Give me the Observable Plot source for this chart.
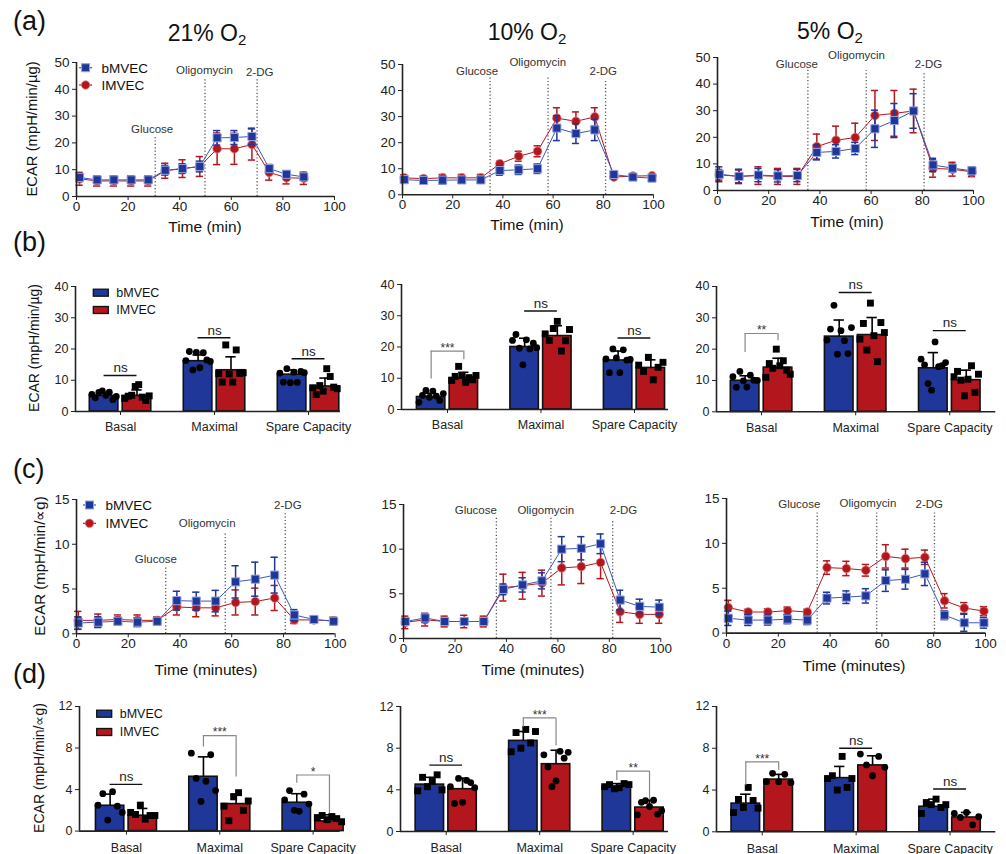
<!DOCTYPE html>
<html><head><meta charset="utf-8">
<script src="https://cdn.jsdelivr.net/npm/d3@7"></script>
<script src="https://cdn.jsdelivr.net/npm/@observablehq/plot@0.6"></script>
<style>
body{margin:0;background:#fff;}
#root{position:relative;width:1006px;height:854px;overflow:hidden;background:#fff;font-family:"Liberation Sans",Arial,Helvetica,sans-serif;}
.panel{position:absolute;}
</style>
</head><body><div id="root"></div>
<script>
const FONT = "'Liberation Sans', Arial, Helvetica, sans-serif";
const BLUE = "#1f3799", RED = "#b3161c";
const BLUE_EDGE = "#95a3dd", RED_EDGE = "#d87c7f";

// ---------- Time-course data ----------
const timeA1 = [1.2, 8.0, 14.5, 21.2, 27.8, 34.4, 41.1, 47.8, 54.5, 61.2, 68.0, 74.7, 81.4, 88.1];
const timeStd = [0.7, 8.4, 16.0, 23.6, 31.2, 38.8, 46.3, 53.8, 61.5, 69.1, 76.6, 84.2, 91.8, 99.4];

const a1_b    = [7.1, 6.2, 6.2, 6.2, 6.2, 9.8, 10.4, 11.2, 21.9, 22.0, 22.4, 10.4, 8.3, 7.3];
const a1_bErr = [1.5, 1.3, 1.3, 1.3, 1.3, 1.8, 1.8, 2.0, 2.7, 2.6, 3.1, 1.5, 1.2, 1.2];
const a1_l    = [6.6, 5.8, 5.8, 5.8, 5.8, 9.6, 10.4, 11.2, 17.8, 17.8, 19.4, 9.0, 7.0, 6.8];
const a1_lErr = [2.4, 1.9, 1.9, 1.9, 1.9, 2.8, 3.3, 3.7, 5.9, 5.8, 5.8, 2.9, 2.3, 2.3];

const a2_b    = [5.8, 5.5, 5.6, 5.7, 5.7, 9.3, 9.6, 10.0, 25.6, 23.5, 24.9, 7.8, 6.8, 6.4];
const a2_bErr = [1.0, 1.2, 1.5, 1.2, 1.2, 1.8, 1.8, 1.8, 4.8, 3.8, 4.1, 1.0, 0.8, 0.8];
const a2_l    = [6.5, 6.2, 6.5, 6.5, 6.5, 11.9, 14.8, 16.7, 29.4, 28.2, 29.9, 6.8, 7.2, 7.3];
const a2_lErr = [1.2, 1.0, 1.3, 1.3, 1.3, 1.0, 1.9, 2.1, 4.0, 3.6, 3.5, 0.8, 0.7, 0.7];

const a3_b    = [6.1, 5.3, 5.8, 5.5, 5.6, 14.3, 14.7, 15.8, 23.2, 26.3, 29.9, 9.6, 8.4, 7.4];
const a3_bErr = [2.8, 2.7, 2.5, 2.3, 2.3, 2.8, 2.5, 2.3, 7.0, 6.4, 6.5, 2.5, 1.5, 1.5];
const a3_l    = [5.9, 5.3, 5.6, 5.3, 5.3, 16.5, 18.9, 19.9, 28.2, 29.0, 29.9, 8.3, 8.0, 7.0];
const a3_lErr = [2.0, 2.4, 3.3, 3.0, 3.0, 4.7, 5.3, 5.4, 9.4, 8.6, 8.2, 3.3, 2.6, 1.8];

const c1_b    = [1.2, 1.3, 1.4, 1.3, 1.4, 3.7, 3.65, 3.65, 5.8, 6.1, 6.55, 2.1, 1.6, 1.4];
const c1_bErr = [0.7, 0.6, 0.4, 0.5, 0.4, 1.05, 1.0, 1.2, 1.8, 1.9, 2.0, 0.6, 0.4, 0.4];
const c1_l    = [1.5, 1.5, 1.6, 1.5, 1.5, 3.0, 2.9, 2.9, 3.5, 3.6, 4.0, 1.55, 1.55, 1.45];
const c1_lErr = [1.0, 0.7, 0.5, 0.6, 0.4, 0.9, 1.0, 0.9, 1.4, 1.5, 1.4, 0.4, 0.3, 0.4];

const c2_b    = [1.9, 2.3, 1.9, 1.9, 1.9, 5.5, 6.0, 6.45, 10.0, 10.1, 10.6, 4.3, 3.6, 3.5];
const c2_bErr = [0.3, 0.5, 0.3, 0.3, 0.3, 0.6, 0.8, 0.9, 1.4, 1.3, 1.1, 1.1, 0.8, 0.8];
const c2_l    = [1.8, 2.1, 1.9, 1.9, 1.9, 5.7, 5.9, 6.2, 7.9, 8.05, 8.5, 3.0, 2.7, 2.7];
const c2_lErr = [0.7, 0.7, 0.6, 0.7, 0.6, 1.5, 1.5, 1.45, 1.9, 1.9, 1.8, 1.2, 1.0, 1.0];

const c3_b    = [1.65, 1.45, 1.45, 1.55, 1.45, 3.9, 4.0, 4.15, 5.85, 6.0, 6.6, 2.0, 1.15, 1.15];
const c3_bErr = [0.8, 0.6, 0.55, 0.5, 0.5, 0.65, 0.7, 0.8, 1.2, 1.1, 1.3, 0.5, 0.95, 0.6];
const c3_l    = [2.85, 2.35, 2.35, 2.5, 2.35, 7.3, 7.2, 7.0, 8.55, 8.3, 8.45, 3.6, 2.8, 2.45];
const c3_lErr = [0.8, 0.3, 0.35, 0.4, 0.3, 0.75, 0.8, 0.65, 1.3, 1.05, 0.8, 0.8, 0.6, 0.5];

// injection markers: name, time, line top, label x, label y
const injNames = ["Glucose", "Oligomycin", "2-DG"];
const a1_inj = {t: [30.5, 49.8, 70.0], top: [22.0, 44.4, 44.4], lx: [29.3, 49.6, 71.0], ly: [25.2, 47.1, 46.4]};
const a2_inj = {t: [34.9, 58.0, 80.9], top: [45.1, 45.1, 44.2], lx: [29.7, 53.9, 80.0], ly: [47.5, 50.9, 47.5]};
const a3_inj = {t: [35.3, 58.1, 80.7], top: [45.6, 45.0, 44.4], lx: [31.0, 54.3, 82.4], ly: [47.5, 51.0, 47.5]};
const c1_inj = {t: [34.5, 57.5, 80.7], top: [7.44, 11.2, 13.4], lx: [30.7, 50.5, 81.7], ly: [8.37, 12.3, 14.3]};
const c2_inj = {t: [36.1, 57.3, 81.3], top: [13.6, 13.6, 13.3], lx: [28.1, 55.3, 85.5], ly: [14.4, 14.4, 14.4]};
const c3_inj = {t: [35.0, 58.0, 80.3], top: [13.6, 13.6, 13.6], lx: [28.1, 54.6, 78.3], ly: [14.4, 14.5, 14.4]};

// ---------- Bar data ----------
const categories = ["Basal", "Maximal", "Spare Capacity"];

const b1_bm = [5.0, 16.1, 11.8], b1_bsd = [1.1, 2.0, 1.5];
const b1_rm = [5.0, 13.2, 8.0],  b1_rsd = [1.9, 4.3, 2.7];
const b1_bPts = [[5.5, 4.4, 6.1, 6.6, 5.2, 6.2, 3.8, 4.8], [16.3, 19.2, 13.3, 18.9, 14.0, 18.8, 16.5, 16.0], [12.3, 9.4, 13.7, 9.2, 12.6, 9.3, 12.8, 12.4]];
const b1_rPts = [[4.2, 4.9, 5.2, 8.0, 8.6, 4.6, 3.5, 5.0], [12.1, 9.4, 21.3, 12.0, 9.4, 19.7, 12.2, 12.4], [7.6, 5.4, 8.3, 6.5, 13.7, 11.2, 7.8, 7.3]];
const b1_sig = [{cat: 0, label: "ns", y: 11.5}, {cat: 1, label: "ns", y: 23.6}, {cat: 2, label: "ns", y: 16.9}];

const b2_bm = [4.0, 20.0, 15.7], b2_bsd = [1.2, 2.8, 3.0];
const b2_rm = [10.1, 23.5, 13.3], b2_rsd = [1.8, 3.3, 2.6];
const b2_bPts = [[2.3, 4.5, 6.1, 3.9, 5.9, 4.3, 2.9, 5.1], [22.1, 24.0, 19.6, 14.3, 22.3, 19.4, 21.2, 19.8], [16.2, 11.8, 19.4, 16.5, 11.8, 19.1, 15.8, 16.0]];
const b2_rPts = [[9.3, 10.6, 13.8, 10.9, 8.7, 10.2, 9.5, 10.9], [24.2, 22.1, 25.9, 28.2, 18.7, 22.0, 25.6], [14.2, 12.2, 16.7, 9.5, 13.5, 15.1]];
const b2_sig = [{cat: 0, label: "***", top: 18.7, left: 9.8, right: 15.9}, {cat: 1, label: "ns", y: 31.5}, {cat: 2, label: "ns", y: 22.9}];

const b3_bm = [9.9, 24.0, 13.9], b3_bsd = [1.6, 5.3, 5.0];
const b3_rm = [14.1, 24.5, 10.1], b3_rsd = [3.0, 5.6, 3.2];
const b3_bPts = [[11.2, 7.8, 12.9, 9.9, 7.9, 11.7, 10.1, 10.0], [22.9, 26.4, 34.0, 18.4, 25.9, 22.7, 18.6, 26.9], [16.8, 15.0, 9.0, 6.9, 22.3, 14.4, 14.7, 15.7]];
const b3_rPts = [[11.0, 15.4, 13.9, 20.0, 14.7, 16.3, 13.3, 12.0], [23.2, 28.2, 19.7, 34.7, 24.3, 16.0, 28.5, 25.3], [11.2, 12.9, 10.1, 5.1, 10.4, 14.7, 6.2, 12.0]];
const b3_sig = [{cat: 0, label: "**", top: 25.0, left: 18.9, right: 22.7}, {cat: 1, label: "ns", y: 38.1}, {cat: 2, label: "ns", y: 25.9}];

const d1_bm = [2.44, 5.23, 2.73], d1_bsd = [1.12, 1.92, 0.87];
const d1_rm = [1.48, 2.6, 0.93],  d1_rsd = [0.7, 0.96, 0.64];
const d1_bPts = [[2.5, 3.6, 1.06, 3.8, 2.4, 1.8], [7.5, 5.07, 2.86, 4.8, 7.35, 3.9], [3.0, 3.9, 2.0, 1.9, 3.55, 2.6]];
const d1_rPts = [[1.8, 1.6, 2.5, 1.15, 1.5, 1.5], [2.4, 1.0, 3.3, 3.7, 2.0, 2.9], [1.3, 1.5, 1.1, 1.4, 1.2, 0.9]];
const d1_sig = [{cat: 0, label: "ns", y: 4.5}, {cat: 1, label: "***", top: 9.2, left: 8.1, right: 5.2}, {cat: 2, label: "*", top: 5.4, left: 4.6, right: 1.7}];

const d2_bm = [4.5, 8.7, 4.3], d2_bsd = [0.7, 0.9, 0.3];
const d2_rm = [4.06, 6.46, 2.3], d2_rsd = [1.06, 1.34, 0.7];
const d2_bPts = [[3.9, 5.2, 4.3, 4.8, 5.44, 4.0], [7.65, 9.5, 8.0, 9.8, 8.5, 9.6], [4.3, 4.5, 4.1, 4.2, 4.6, 4.5]];
const d2_rPts = [[4.3, 2.7, 5.1, 2.8, 4.9, 4.7, 4.2], [7.36, 6.2, 4.3, 4.86, 7.7, 7.04, 7.6], [1.6, 2.8, 2.95, 2.4, 3.0, 1.66, 2.0]];
const d2_sig = [{cat: 0, label: "ns", y: 6.37}, {cat: 1, label: "***", top: 10.9, left: 10.0, right: 8.2}, {cat: 2, label: "**", top: 5.8, left: 4.9, right: 3.1}];

const d3_bm = [2.7, 5.14, 2.4], d3_bsd = [0.9, 1.12, 0.73];
const d3_rm = [5.0, 6.36, 1.37], d3_rsd = [0.5, 0.92, 0.48];
const d3_bPts = [[1.85, 3.1, 2.33, 4.25, 3.0, 2.27], [5.1, 5.37, 4.0, 7.22, 4.25, 5.1], [1.76, 2.8, 2.6, 3.13, 2.33, 2.6]];
const d3_rPts = [[4.8, 5.6, 4.8, 5.5, 4.7], [7.44, 6.4, 5.37, 7.22, 6.17], [1.76, 1.37, 1.85, 0.67, 1.44]];
const d3_sig = [{cat: 0, label: "***", top: 6.7, left: 4.4, right: 5.9}, {cat: 1, label: "ns", y: 8.0}, {cat: 2, label: "ns", y: 4.1}];

// ---------- helpers ----------
const root = document.getElementById("root");
const ML = 50, MR = 24, MT = 36, MB = 30;

function place(svg, FL, FT) {
  const div = document.createElement("div");
  div.className = "panel";
  div.style.left = (FL - ML) + "px";
  div.style.top = (FT - MT) + "px";
  div.appendChild(svg);
  root.appendChild(div);
}

function svgStyle(fs) {
  return `overflow:visible;background:transparent;color:#222;font-family:${FONT};font-size:${fs}px;max-width:none;`;
}

function linePanel({frame, times, blue, blueErr, red, redErr, ymax, yticks, inj}) {
  const [FL, FR, FT, FB] = frame;
  const B = times.map((t, i) => ({t, v: blue[i], e: blueErr[i]}));
  const R = times.map((t, i) => ({t, v: red[i], e: redErr[i]}));
  const I = injNames.map((name, i) => ({name, t: inj.t[i], top: inj.top[i], lx: inj.lx[i], ly: inj.ly[i]}));
  const cap = 1.4;
  const err = (D, color) => [
    Plot.ruleX(D, {x: "t", y1: d => d.v - d.e, y2: d => d.v + d.e, stroke: color, strokeWidth: 1.5}),
    Plot.ruleY(D, {y: d => d.v + d.e, x1: d => d.t - cap, x2: d => d.t + cap, stroke: color, strokeWidth: 1.5}),
    Plot.ruleY(D, {y: d => d.v - d.e, x1: d => d.t - cap, x2: d => d.t + cap, stroke: color, strokeWidth: 1.5})
  ];
  const svg = Plot.plot({
    width: FR - FL + ML + MR, height: FB - FT + MT + MB,
    marginLeft: ML, marginRight: MR, marginTop: MT, marginBottom: MB,
    style: svgStyle(13.5),
    x: {domain: [0, 100], ticks: [0, 20, 40, 60, 80, 100], tickSize: 4, tickPadding: 1, label: null},
    y: {domain: [0, ymax], ticks: yticks, tickSize: 4, tickPadding: 3, label: null},
    marks: [
      Plot.ruleX(I, {x: "t", y1: () => 0, y2: "top", stroke: "#555", strokeWidth: 1.3, strokeDasharray: "1.2,2.2"}),
      Plot.text(I, {x: "lx", y: "ly", text: "name", fontSize: 11.5, fill: "#333"}),
      ...err(R, RED),
      Plot.line(R, {x: "t", y: "v", stroke: RED, strokeWidth: 1}),
      Plot.dot(R, {x: "t", y: "v", r: 4.3, fill: RED, stroke: RED_EDGE, strokeWidth: 0.8}),
      ...err(B, BLUE),
      Plot.line(B, {x: "t", y: "v", stroke: "#3d57b8", strokeWidth: 1}),
      Plot.dot(B, {x: "t", y: "v", symbol: "square", r: 4.6, fill: BLUE, stroke: BLUE_EDGE, strokeWidth: 1}),
      Plot.ruleY([0], {stroke: "#222", strokeWidth: 1.6}),
      Plot.ruleX([0], {y1: () => 0, y2: () => ymax, stroke: "#222", strokeWidth: 1.6})
    ]
  });
  place(svg, FL, FT);
}

const OFF = 0.175, HALF = 0.152, SPREAD = 0.13, CAP = 0.055;

function ptsTable(ptsByCat, offset) {
  const out = [];
  ptsByCat.forEach((vals, i) => {
    const n = vals.length;
    vals.forEach((v, k) => out.push({x: i + offset + (n > 1 ? -SPREAD + 2 * SPREAD * k / (n - 1) : 0), v}));
  });
  return out;
}

function barPanel({frame, xdom, ymax, yticks, bm, bsd, rm, rsd, bPts, rPts, bSym, rSym, sig, tickPad}) {
  const [FL, FR, FT, FB] = frame;
  const bars = [];
  categories.forEach((c, i) => {
    bars.push({i, c: i - OFF, v: bm[i], sd: bsd[i], fill: BLUE});
    bars.push({i, c: i + OFF, v: rm[i], sd: rsd[i], fill: RED});
  });
  const bP = ptsTable(bPts, -OFF), rP = ptsTable(rPts, OFF);
  const ns = sig.filter(s => s.y !== undefined);
  const br = sig.filter(s => s.top !== undefined);
  const svg = Plot.plot({
    width: FR - FL + ML + MR, height: FB - FT + MT + MB,
    marginLeft: ML, marginRight: MR, marginTop: MT, marginBottom: MB,
    style: svgStyle(12.5),
    x: {domain: xdom, ticks: [0, 1, 2], tickFormat: i => categories[i], tickSize: 4, tickPadding: tickPad, label: null},
    y: {domain: [0, ymax], ticks: yticks, tickSize: 4, tickPadding: 3, label: null},
    marks: [
      Plot.rect(bars, {x1: d => d.c - HALF, x2: d => d.c + HALF, y1: () => 0, y2: "v", fill: "fill", stroke: "#111", strokeWidth: 1.6}),
      Plot.ruleX(bars, {x: "c", y1: "v", y2: d => d.v + d.sd, stroke: "#000", strokeWidth: 1.6}),
      Plot.ruleY(bars, {y: d => d.v + d.sd, x1: d => d.c - CAP, x2: d => d.c + CAP, stroke: "#000", strokeWidth: 1.6}),
      Plot.dot(bP, {x: "x", y: "v", symbol: bSym, r: bSym === "square" ? 3.9 : 3.4, fill: "#000"}),
      Plot.dot(rP, {x: "x", y: "v", symbol: rSym, r: rSym === "square" ? 3.9 : 3.4, fill: "#000"}),
      Plot.ruleY(ns, {y: "y", x1: d => d.cat - OFF, x2: d => d.cat + OFF, stroke: "#111", strokeWidth: 1.4}),
      Plot.text(ns, {x: "cat", y: "y", text: "label", dy: -7.5, fontSize: 13.5, fill: "#222"}),
      Plot.ruleX(br, {x: d => d.cat - OFF, y1: "left", y2: "top", stroke: "#888", strokeWidth: 1.2}),
      Plot.ruleX(br, {x: d => d.cat + OFF, y1: "right", y2: "top", stroke: "#888", strokeWidth: 1.2}),
      Plot.ruleY(br, {y: "top", x1: d => d.cat - OFF, x2: d => d.cat + OFF, stroke: "#888", strokeWidth: 1.2}),
      Plot.text(br, {x: "cat", y: "top", text: "label", dy: -3, fontSize: 12, fill: "#333"}),
      Plot.ruleY([0], {stroke: "#222", strokeWidth: 1.6}),
      Plot.ruleX([xdom[0]], {y1: () => 0, y2: () => ymax, stroke: "#222", strokeWidth: 1.6})
    ]
  });
  place(svg, FL, FT);
}

// ---------- panels ----------
const tA = [0, 10, 20, 30, 40, 50], tC = [0, 5, 10, 15], tB = [0, 10, 20, 30, 40], tD = [0, 4, 8, 12];

linePanel({frame: [76, 334, 61.7, 195.7], times: timeA1, blue: a1_b, blueErr: a1_bErr, red: a1_l, redErr: a1_lErr, ymax: 50, yticks: tA, inj: a1_inj});
linePanel({frame: [401.7, 652.7, 64, 194.3], times: timeStd, blue: a2_b, blueErr: a2_bErr, red: a2_l, redErr: a2_lErr, ymax: 50, yticks: tA, inj: a2_inj});
linePanel({frame: [717.3, 973.3, 56.7, 189.7], times: timeStd, blue: a3_b, blueErr: a3_bErr, red: a3_l, redErr: a3_lErr, ymax: 50, yticks: tA, inj: a3_inj});

barPanel({frame: [75, 340, 286, 411], xdom: [-0.479, 2.34], ymax: 40, yticks: tB, bm: b1_bm, bsd: b1_bsd, rm: b1_rm, rsd: b1_rsd, bPts: b1_bPts, rPts: b1_rPts, bSym: "circle", rSym: "square", sig: b1_sig, tickPad: 7});
barPanel({frame: [401, 668, 284, 409], xdom: [-0.492, 2.364], ymax: 40, yticks: tB, bm: b2_bm, bsd: b2_bsd, rm: b2_rm, rsd: b2_rsd, bPts: b2_bPts, rPts: b2_rPts, bSym: "circle", rSym: "square", sig: b2_sig, tickPad: 7});
barPanel({frame: [715.7, 995, 285.7, 411], xdom: [-0.479, 2.489], ymax: 40, yticks: tB, bm: b3_bm, bsd: b3_bsd, rm: b3_rm, rsd: b3_rsd, bPts: b3_bPts, rPts: b3_rPts, bSym: "circle", rSym: "square", sig: b3_sig, tickPad: 7});

linePanel({frame: [76.3, 335, 499, 633.3], times: timeStd, blue: c1_b, blueErr: c1_bErr, red: c1_l, redErr: c1_lErr, ymax: 15, yticks: tC, inj: c1_inj});
linePanel({frame: [402.7, 660, 503.7, 637.7], times: timeStd, blue: c2_b, blueErr: c2_bErr, red: c2_l, redErr: c2_lErr, ymax: 15, yticks: tC, inj: c2_inj});
linePanel({frame: [726, 985, 497.7, 632.3], times: timeStd, blue: c3_b, blueErr: c3_bErr, red: c3_l, redErr: c3_lErr, ymax: 15, yticks: tC, inj: c3_inj});

barPanel({frame: [79.3, 340, 705.7, 830.3], xdom: [-0.503, 2.29], ymax: 12, yticks: tD, bm: d1_bm, bsd: d1_bsd, rm: d1_rm, rsd: d1_rsd, bPts: d1_bPts, rPts: d1_rPts, bSym: "circle", rSym: "square", sig: d1_sig, tickPad: 8});
barPanel({frame: [400, 668, 705.7, 830.7], xdom: [-0.489, 2.378], ymax: 12, yticks: tD, bm: d2_bm, bsd: d2_bsd, rm: d2_rm, rsd: d2_rsd, bPts: d2_bPts, rPts: d2_rPts, bSym: "square", rSym: "circle", sig: d2_sig, tickPad: 8});
barPanel({frame: [715.7, 995, 705.7, 831], xdom: [-0.487, 2.487], ymax: 12, yticks: tD, bm: d3_bm, bsd: d3_bsd, rm: d3_rm, rsd: d3_rsd, bPts: d3_bPts, rPts: d3_rPts, bSym: "square", rSym: "circle", sig: d3_sig, tickPad: 8});

// ---------- titles, labels, legends ----------
const titles = [["21% O", 207, 41], ["10% O", 527, 39.5], ["5% O", 830, 38.5]];
const letters = [["(a)", 30], ["(b)", 251], ["(c)", 478], ["(d)", 683]];
const yTitleUg = "ECAR (mpH/min/µg)", yTitleProp = "ECAR (mpH/min/∝g)";
const xTitles = [["Time (min)", 205, 231.5], ["Time (min)", 527, 229.5], ["Time (min)", 847, 227],
                 ["Time (minutes)", 206, 675], ["Time (minutes)", 533, 675], ["Time (minutes)", 854, 671]];

let o = `<svg width="1006" height="854" style="position:absolute;left:0;top:0;overflow:visible;font-family:${FONT}" fill="#111">`;
letters.forEach(([t, y]) => { o += `<text x="13" y="${y}" font-size="27">${t}</text>`; });
titles.forEach(([t, x, y]) => { o += `<text x="${x}" y="${y}" font-size="23" text-anchor="middle">${t}<tspan font-size="15" dy="4">2</tspan></text>`; });
xTitles.forEach(([t, x, y]) => { o += `<text x="${x}" y="${y}" font-size="15.5" text-anchor="middle">${t}</text>`; });
const yT = [[yTitleUg, 36.5, 129, 14.8], [yTitleUg, 39, 348, 14], [yTitleProp, 45, 566, 15], [yTitleProp, 44, 768, 14]];
yT.forEach(([t, x, y, fs]) => { o += `<text transform="translate(${x},${y}) rotate(-90)" font-size="${fs}" text-anchor="middle">${t}</text>`; });

// line legends (a) and (c)
function lineLegend(x, yB, yL, fs) {
  let s = `<line x1="${x - 6.5}" x2="${x + 6.5}" y1="${yB}" y2="${yB}" stroke="#3d57b8" stroke-width="1.2"/>`;
  s += `<rect x="${x - 4}" y="${yB - 4}" width="8" height="8" fill="${BLUE}" stroke="${BLUE_EDGE}" stroke-width="1"/>`;
  s += `<line x1="${x - 6.5}" x2="${x + 6.5}" y1="${yL}" y2="${yL}" stroke="${RED}" stroke-width="1.2"/>`;
  s += `<circle cx="${x}" cy="${yL}" r="4.2" fill="${RED}" stroke="${RED_EDGE}" stroke-width="0.8"/>`;
  s += `<text x="${x + 16}" y="${yB + 4.8}" font-size="${fs}">bMVEC</text>`;
  s += `<text x="${x + 16}" y="${yL + 4.8}" font-size="${fs}">IMVEC</text>`;
  return s;
}
function barLegend(x, yB, yL, fs) {
  let s = `<rect x="${x}" y="${yB - 3.5}" width="15" height="7" fill="${BLUE}" stroke="#111" stroke-width="1.3"/>`;
  s += `<rect x="${x}" y="${yL - 3.5}" width="15" height="7" fill="${RED}" stroke="#111" stroke-width="1.3"/>`;
  s += `<text x="${x + 23}" y="${yB + 4.3}" font-size="${fs}">bMVEC</text>`;
  s += `<text x="${x + 23}" y="${yL + 4.3}" font-size="${fs}">IMVEC</text>`;
  return s;
}
o += lineLegend(85.6, 67.7, 85, 13.5);
o += barLegend(93.3, 292.7, 310, 12.5);
o += lineLegend(89.5, 505, 523.3, 13.5);
o += barLegend(96.7, 713.7, 732, 12.5);
o += `</svg>`;
root.insertAdjacentHTML("beforeend", o);
</script>
</body></html>
